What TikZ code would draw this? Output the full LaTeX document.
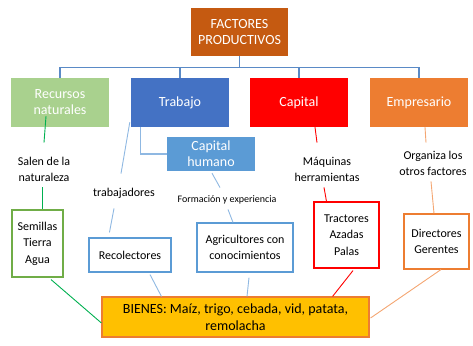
\documentclass[tikz,border=0pt]{standalone}
\usepackage{fontspec}
\setmainfont{Carlito}
\usetikzlibrary{calc}

\definecolor{topc}{HTML}{C55A11}
\definecolor{natc}{HTML}{A9D18E}
\definecolor{trac}{HTML}{4472C4}
\definecolor{capc}{HTML}{FF0000}
\definecolor{empc}{HTML}{ED7D31}
\definecolor{humc}{HTML}{5B9BD5}
\definecolor{treec}{HTML}{5A8AC6}
\definecolor{grnc}{HTML}{70AD47}
\definecolor{glinec}{HTML}{00B050}
\definecolor{blinec}{HTML}{8FB8E2}
\definecolor{olinec}{HTML}{F4A672}
\definecolor{bienc}{HTML}{FFC000}

\begin{document}
\begin{tikzpicture}[
      x=1pt, y=-1pt,
      factor/.style={minimum width=98pt, minimum height=49pt, inner sep=2pt,
        align=center, text=white, font=\fontsize{14}{16}\selectfont},
      note/.style={align=center, inner sep=2pt, font=\fontsize{12}{16}\selectfont},
      item/.style={line width=1.1pt, fill=white, align=center, inner sep=2pt,
        font=\fontsize{12}{16.5}\selectfont},
      tree/.style={treec, line width=1.3pt},
      link/.style={line width=0.9pt}
    ]

    \path[use as bounding box] (0,0) rectangle (473,345);

    % Top box
    \node[factor, fill=topc, minimum width=97pt, minimum height=48pt] (top) at (239.5,32)
    {FACTORES\\PRODUCTIVOS};

    % Factors
    \node[factor, fill=natc] (nat) at (60,102.5) {Recursos\\naturales};
    \node[factor, fill=trac] (tra) at (180,102.5) {Trabajo};
    \node[factor, fill=capc] (cap) at (299,102.5) {Capital};
    \node[factor, fill=empc] (emp) at (419,102.5) {Empresario};
    \node[factor, fill=humc, minimum width=88pt, minimum height=34pt] (hum) at (211,154)
    {Capital\\humano};

    % Tree
    \draw[tree] (top.south) -- ++(0,11) coordinate (split);
    \draw[tree] (split) -| (nat.north);
    \draw[tree] (split) -| (tra.north);
    \draw[tree] (split) -| (cap.north);
    \draw[tree] (split) -| (emp.north);
    \draw[tree, blinec] ($(tra.south west)+(10,0)$) |- (hum.west);

    % Notes
    \node[note] (salen) at (44,169) {Salen de la\\naturaleza};
    \node[note] (trab) at (124,193) {trabajadores};
    \node[note, font=\fontsize{10}{12}\selectfont] (form) at (227,200) {Formación y experiencia};
    \node[note] (maq) at (327,169) {Máquinas\\herramientas};
    \node[note] (org) at (433,163) {Organiza los\\otros factores};

    % Items
    \node[item, draw=grnc, minimum width=51pt, minimum height=67pt] (sem) at (37.5,243.5)
    {Semillas\\Tierra\\Agua};
    \node[item, draw=humc, minimum width=82pt, minimum height=34pt] (rec) at (130,255)
    {Recolectores};
    \node[item, draw=humc, minimum width=96pt, minimum height=49pt] (agr) at (245,247.5)
    {Agricultores con\\conocimientos};
    \node[item, draw=capc, minimum width=65pt, minimum height=66pt] (trc) at (346.5,235)
    {Tractores\\Azadas\\Palas};
    \node[item, draw=empc, minimum width=65pt, minimum height=55pt] (dir) at (436.5,241.5)
    {Directores\\Gerentes};

    % Goods
    \node[item, draw=empc, fill=bienc, minimum width=267pt, minimum height=40pt,
      font=\fontsize{14}{17}\selectfont] (bien) at (235.5,317)
    {BIENES: Maíz, trigo, cebada, vid, patata,\\remolacha};

    % Links factor - note - item
    \draw[link, glinec] ($(nat.south)+(-14,-11)$) -- ($(salen.north)+(0,-12)$);
    \draw[link, glinec] ($(salen.south)+(-2,4)$) -- ($(sem.north)+(4.5,0)$);
    \draw[link, blinec] ($(tra.south west)+(-1,-5)$) -- ($(trab.north)+(-3,-12)$);
    \draw[link, blinec] ($(trab.south)+(-10,8)$) -- ($(rec.north west)+(21,-5)$);
    \draw[link, blinec] ($(hum.south)+(1,2)$) -- ($(form.north)+(-7,-6)$);
    \draw[link, blinec] ($(form.south)+(1,3)$) -- ($(agr.north)+(-12,0)$);
    \draw[link, capc] ($(cap.south)+(16,0)$) -- ($(maq.north)+(-10,-12)$);
    \draw[link, capc] ($(maq.south)+(-3,4)$) -- ($(trc.north)+(-20,0)$);
    \draw[link, olinec] ($(emp.south)+(6,0)$) -- ($(org.north)+(-7,-6)$);
    \draw[link, olinec] ($(org.south)+(-2,4)$) -- ($(dir.north)+(-2.5,0)$);

    % Links item - goods
    \draw[link, glinec] ($(sem.south)+(13.5,2)$) -- ($(bien.west)+(0,6)$);
    \draw[link, blinec] ($(rec.south)+(20,2)$) -- ($(bien.north west)+(60,0)$);
    \draw[link, blinec] ($(agr.south)+(4,5)$) -- ($(bien.north)+(11.5,0)$);
    \draw[link, capc] ($(trc.south)+(6.5,2)$) -- ($(bien.north east)+(-37,0)$);
    \draw[link, olinec] ($(dir.south)+(4.5,0)$) -- ($(bien.east)+(1,1)$);

  \end{tikzpicture}
\end{document}
